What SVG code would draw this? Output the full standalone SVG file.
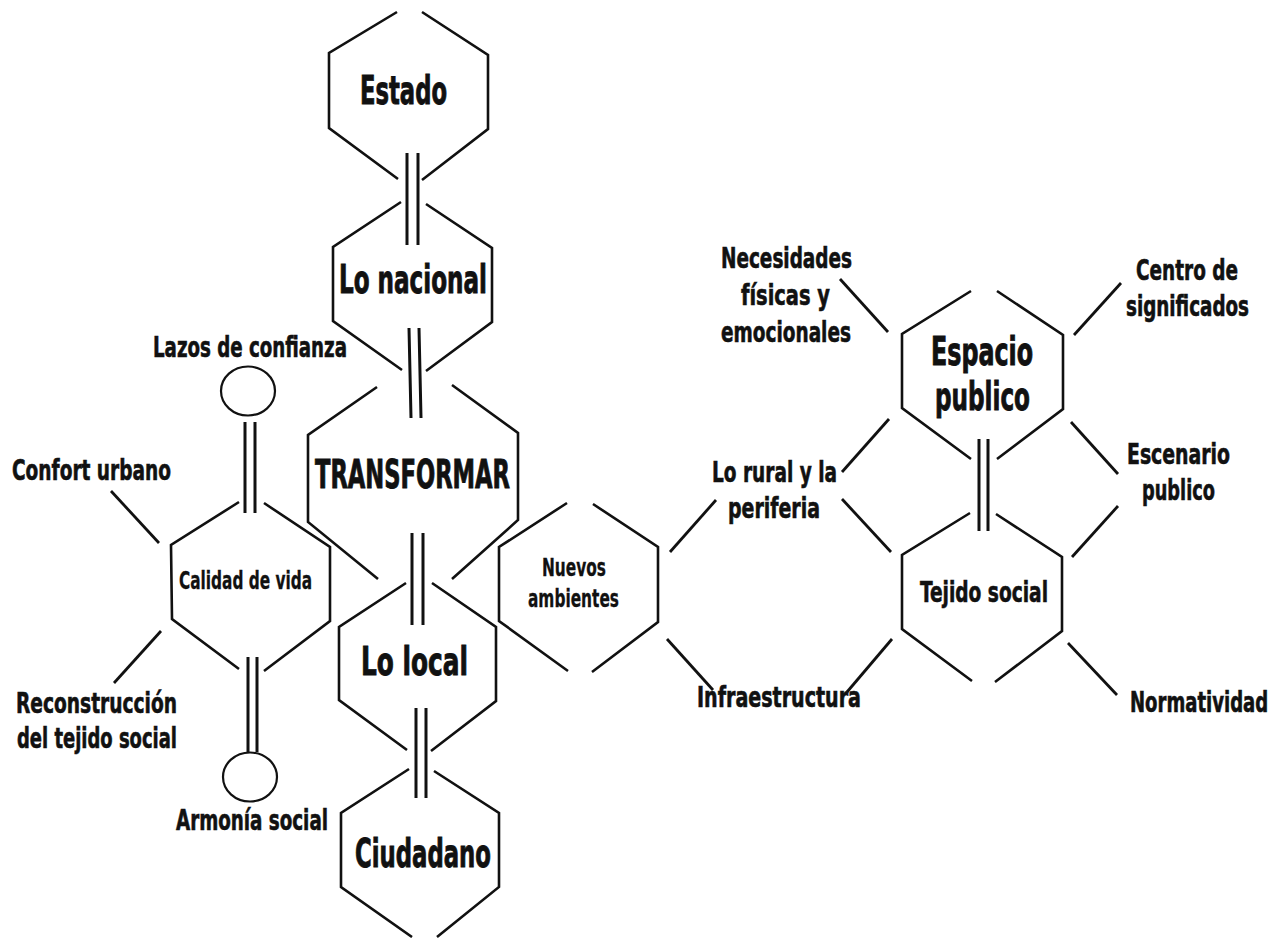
<svg xmlns="http://www.w3.org/2000/svg" width="1288" height="938" viewBox="0 0 1288 938">
<style>
.hex{fill:none;stroke:#111;stroke-width:2.6;stroke-linecap:butt;stroke-linejoin:miter}
.ln{fill:none;stroke:#111;stroke-width:2.8}
.dbl{fill:none;stroke:#111;stroke-width:3}
.circ{fill:#fff;stroke:#111;stroke-width:2.2}
text{font-family:'Liberation Sans Narrow','DejaVu Sans Condensed','Liberation Sans',sans-serif;font-weight:bold;fill:#111}
.big{font-size:39px;stroke:#111;stroke-width:0.9}
.mid{font-size:28px;stroke:#111;stroke-width:0.6}
.sm{font-size:24px;stroke:#111;stroke-width:0.3}
.end{text-anchor:end}
</style>
<rect width="1288" height="938" fill="#fff"/>
<g id="connectors">
<path class="dbl" d="M407,153 L407,245 M418,153 L418,245"/>
<path class="dbl" d="M409,328 L411,418 M419,328 L421,418"/>
<path class="dbl" d="M412,533 L412,625 M423,533 L423,625"/>
<path class="dbl" d="M416,708 L416,798 M426,708 L426,798"/>
<path class="dbl" d="M245,422 L245,513 M255,422 L255,513"/>
<path class="dbl" d="M248,657 L248,752 M257,657 L257,752"/>
<path class="dbl" d="M979,439 L979,531 M988,439 L988,531"/>
<path class="ln" d="M111,491 L159,543"/>
<path class="ln" d="M161,631 L114,683"/>
<path class="ln" d="M670,552 L716,500"/>
<path class="ln" d="M667,639 L713,690"/>
<path class="ln" d="M840,279 L888,332"/>
<path class="ln" d="M1074,335 L1121,283"/>
<path class="ln" d="M842,472 L889,419"/>
<path class="ln" d="M1071,422 L1118,474"/>
<path class="ln" d="M842,499 L891,552"/>
<path class="ln" d="M1118,506 L1072,557"/>
<path class="ln" d="M847,692 L892,639"/>
<path class="ln" d="M1068,643 L1117,695"/>
</g>
<g id="estado">
<path class="hex" d="M397,12 L329,53 L329,128 L398,179 M422,12 L488,55 L488,129 L422,180"/>
<text class="big" x="360" y="104" textLength="87" lengthAdjust="spacingAndGlyphs">Estado</text>
</g>
<g id="lo-nacional">
<path class="hex" d="M401,202 L333,247 L333,321 L402,370 M426,204 L492,248 L492,322 L426,371"/>
<text class="big" x="339" y="293" textLength="148" lengthAdjust="spacingAndGlyphs">Lo nacional</text>
</g>
<g id="transformar">
<path class="hex" d="M377,387 L308,435 L308,522 L378,579 M452,385 L518,433 L518,520 L452,579"/>
<text class="big" x="315" y="488" textLength="195" lengthAdjust="spacingAndGlyphs">TRANSFORMAR</text>
</g>
<g id="lo-local">
<path class="hex" d="M406,583 L339,627 L339,700 L407,750 M432,583 L496,627 L496,701 L431,751"/>
<text class="big" x="361" y="675" textLength="107" lengthAdjust="spacingAndGlyphs">Lo local</text>
</g>
<g id="ciudadano">
<path class="hex" d="M409,769 L341,813 L341,887 L412,937 M434,771 L499,813 L499,887 L437,937"/>
<text class="big" x="355" y="867" textLength="136" lengthAdjust="spacingAndGlyphs">Ciudadano</text>
</g>
<g id="calidad-de-vida">
<path class="hex" d="M239,502 L171,545 L172,619 L239,669 M264,503 L330,547 L330,621 L264,671"/>
<text class="sm" x="179" y="589" textLength="133" lengthAdjust="spacingAndGlyphs">Calidad de vida</text>
</g>
<g id="lazos-de-confianza">
<ellipse class="circ" cx="248" cy="391" rx="27" ry="24.5"/>
<text class="mid" x="153" y="357" textLength="194" lengthAdjust="spacingAndGlyphs">Lazos de confianza</text>
</g>
<g id="armonia-social">
<ellipse class="circ" cx="250" cy="777" rx="27" ry="24.5"/>
<text class="mid" x="176" y="830" textLength="152" lengthAdjust="spacingAndGlyphs">Armonía social</text>
</g>
<g id="confort-urbano">
<text class="mid" x="12" y="480" textLength="159" lengthAdjust="spacingAndGlyphs">Confort urbano</text>
</g>
<g id="reconstruccion">
<text class="mid" x="16" y="713" textLength="161" lengthAdjust="spacingAndGlyphs">Reconstrucción</text>
<text class="mid" x="17" y="748" textLength="160" lengthAdjust="spacingAndGlyphs">del tejido social</text>
</g>
<g id="nuevos-ambientes">
<path class="hex" d="M567,503 L499,547 L499,621 L568,671 M593,504 L658,547 L658,622 L592,672"/>
<text class="sm" x="542" y="576" textLength="64" lengthAdjust="spacingAndGlyphs">Nuevos</text>
<text class="sm" x="528" y="607" textLength="91" lengthAdjust="spacingAndGlyphs">ambientes</text>
</g>
<g id="lo-rural">
<text class="mid" x="712" y="482" textLength="125" lengthAdjust="spacingAndGlyphs">Lo rural y la</text>
<text class="mid" x="728" y="518" textLength="92" lengthAdjust="spacingAndGlyphs">periferia</text>
</g>
<g id="infraestructura">
<text class="mid" x="697" y="707" textLength="164" lengthAdjust="spacingAndGlyphs">Infraestructura</text>
</g>
<g id="necesidades">
<text class="mid" x="721" y="268" textLength="131" lengthAdjust="spacingAndGlyphs">Necesidades</text>
<text class="mid" x="741" y="305" textLength="89" lengthAdjust="spacingAndGlyphs">físicas y</text>
<text class="mid" x="721" y="342" textLength="130" lengthAdjust="spacingAndGlyphs">emocionales</text>
</g>
<g id="espacio-publico">
<path class="hex" d="M971,291 L902,334 L902,408 L971,459 M997,291 L1063,335 L1063,409 L997,459"/>
<text class="big" x="931" y="365" textLength="102" lengthAdjust="spacingAndGlyphs">Espacio</text>
<text class="big" x="935" y="410" textLength="95" lengthAdjust="spacingAndGlyphs">publico</text>
</g>
<g id="centro-de-significados">
<text class="mid" x="1136" y="280" textLength="102" lengthAdjust="spacingAndGlyphs">Centro de</text>
<text class="mid" transform="translate(1126,316) scale(0.75,1)" x="0" y="0" textLength="164" lengthAdjust="spacingAndGlyphs">significados</text>
</g>
<g id="escenario-publico">
<text class="mid" x="1127" y="464" textLength="103" lengthAdjust="spacingAndGlyphs">Escenario</text>
<text class="mid" x="1142" y="500" textLength="73" lengthAdjust="spacingAndGlyphs">publico</text>
</g>
<g id="tejido-social">
<path class="hex" d="M970,513 L902,555 L902,629 L972,681 M996,514 L1062,557 L1062,631 L995,682"/>
<text class="mid" x="920" y="602" textLength="128" lengthAdjust="spacingAndGlyphs">Tejido social</text>
</g>
<g id="normatividad">
<text class="mid" transform="translate(1130,712) scale(0.72,1)" x="0" y="0" textLength="192" lengthAdjust="spacingAndGlyphs">Normatividad</text>
</g>
</svg>
